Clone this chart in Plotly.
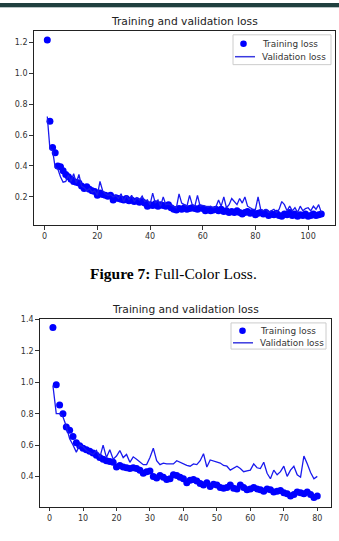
import plotly.graph_objects as go

# ---------------- data ----------------
top_train = [1.215, 0.69, 0.52, 0.485, 0.40, 0.395, 0.37, 0.345, 0.33, 0.315,
             0.30, 0.295, 0.29, 0.27, 0.255, 0.265, 0.25, 0.24, 0.235, 0.21,
             0.225, 0.215, 0.21, 0.205, 0.21, 0.18, 0.195, 0.19, 0.185, 0.18,
             0.19, 0.175, 0.18, 0.17, 0.175, 0.165, 0.17, 0.16, 0.14, 0.15,
             0.145, 0.155, 0.14, 0.15, 0.145, 0.14, 0.15, 0.13, 0.12, 0.115,
             0.125, 0.12, 0.13, 0.12, 0.125, 0.13, 0.125, 0.12, 0.13, 0.125,
             0.11, 0.12, 0.11, 0.115, 0.12, 0.11, 0.12, 0.105, 0.11, 0.10,
             0.105, 0.10, 0.11, 0.10, 0.09, 0.10, 0.105, 0.095, 0.10, 0.085,
             0.095, 0.10, 0.09, 0.10, 0.08, 0.09, 0.085, 0.095, 0.08, 0.075,
             0.09, 0.085, 0.10, 0.08, 0.09, 0.075, 0.085, 0.08, 0.09, 0.075,
             0.08, 0.09, 0.08, 0.085, 0.09]
top_val = [0.72, 0.51, 0.50, 0.39, 0.38, 0.33, 0.295, 0.30, 0.34, 0.30,
           0.35, 0.29, 0.345, 0.27, 0.26, 0.24, 0.255, 0.23, 0.24, 0.21,
           0.30, 0.24, 0.22, 0.21, 0.215, 0.20, 0.21, 0.19, 0.22, 0.17,
           0.21, 0.18, 0.21, 0.17, 0.195, 0.18, 0.205, 0.17, 0.18, 0.15,
           0.225, 0.16, 0.18, 0.14, 0.20, 0.15, 0.155, 0.145, 0.14, 0.13,
           0.22, 0.16, 0.15, 0.14, 0.21, 0.15, 0.14, 0.21, 0.14, 0.145,
           0.14, 0.135, 0.14, 0.13, 0.135, 0.18, 0.14, 0.20, 0.13, 0.15,
           0.19, 0.17, 0.15, 0.19, 0.16, 0.20, 0.14, 0.13, 0.12, 0.12,
           0.20, 0.12, 0.11, 0.12, 0.10, 0.11, 0.12, 0.10, 0.12, 0.17,
           0.15, 0.11, 0.14, 0.11, 0.13, 0.10, 0.14, 0.11, 0.125, 0.13,
           0.11, 0.14, 0.12, 0.15, 0.10]
top_epochs = list(range(1, len(top_train) + 1))

bot_train = [1.35, 0.985, 0.855, 0.80, 0.715, 0.695, 0.655, 0.615, 0.595, 0.58,
             0.57, 0.56, 0.55, 0.535, 0.52, 0.51, 0.50, 0.495, 0.49, 0.46,
             0.47, 0.46, 0.455, 0.45, 0.455, 0.45, 0.44, 0.42, 0.43, 0.435,
             0.40, 0.39, 0.405, 0.395, 0.38, 0.385, 0.41, 0.405, 0.395, 0.385,
             0.36, 0.375, 0.38, 0.37, 0.355, 0.345, 0.36, 0.335, 0.35, 0.345,
             0.33, 0.325, 0.33, 0.345, 0.325, 0.32, 0.345, 0.33, 0.315, 0.32,
             0.33, 0.32, 0.315, 0.305, 0.32, 0.315, 0.30, 0.305, 0.31, 0.295,
             0.29, 0.275, 0.285, 0.30, 0.295, 0.29, 0.30, 0.285, 0.265, 0.275]
bot_val = [0.98, 0.80, 0.80, 0.78, 0.72, 0.64, 0.60, 0.555, 0.60, 0.59,
           0.565, 0.555, 0.54, 0.565, 0.52, 0.60, 0.52, 0.57, 0.51, 0.53,
           0.565, 0.52, 0.54, 0.49, 0.525, 0.51, 0.49, 0.475, 0.475, 0.52,
           0.58, 0.50, 0.475, 0.485, 0.48, 0.48, 0.48, 0.50, 0.49, 0.475,
           0.47, 0.465, 0.48, 0.475, 0.50, 0.545, 0.46, 0.505, 0.50, 0.49,
           0.485, 0.47, 0.465, 0.44, 0.45, 0.465, 0.45, 0.43, 0.435, 0.44,
           0.48, 0.455, 0.45, 0.49, 0.42, 0.385, 0.44, 0.41, 0.43, 0.465,
           0.40, 0.44, 0.465, 0.41, 0.395, 0.53, 0.48, 0.425, 0.385, 0.40]
bot_epochs = list(range(1, len(bot_train) + 1))

title_text = "Training and validation loss"
train_name = "Training loss"
val_name = "Validation loss"
caption = "<b>Figure 7:</b> Full-Color Loss."
top_xticks = [0, 20, 40, 60, 80, 100]
top_yticks = [0.2, 0.4, 0.6, 0.8, 1.0, 1.2]
bot_xticks = [0, 10, 20, 30, 40, 50, 60, 70, 80]
bot_yticks = [0.4, 0.6, 0.8, 1.0, 1.2, 1.4]

# ---------------- figure ----------------
W, H = 339, 541
BLUE = "#0000ff"
LINE = "#1a1aee"
FONT = "DejaVu Sans"


def px_x(p):
    return p / W


def px_y(p):
    return 1 - p / H


fig = go.Figure()
fig.add_trace(go.Scatter(x=top_epochs, y=top_train, mode="markers", name=train_name,
                         marker=dict(color=BLUE, size=7), xaxis="x", yaxis="y"))
fig.add_trace(go.Scatter(x=top_epochs, y=top_val, mode="lines", name=val_name,
                         line=dict(color=LINE, width=1.3), xaxis="x", yaxis="y"))
fig.add_trace(go.Scatter(x=bot_epochs, y=bot_train, mode="markers", name=train_name,
                         marker=dict(color=BLUE, size=7), xaxis="x2", yaxis="y2"))
fig.add_trace(go.Scatter(x=bot_epochs, y=bot_val, mode="lines", name=val_name,
                         line=dict(color=LINE, width=1.3), xaxis="x2", yaxis="y2"))

axis_common = dict(showgrid=False, zeroline=False, showline=True, mirror=True,
                   linecolor="#222", linewidth=1, ticks="outside", ticklen=3.5,
                   tickcolor="#333", tickfont=dict(family=FONT, size=8, color="#333"))

top_dom_x = [px_x(33.6), px_x(335)]
top_dom_y = [px_y(223.3), px_y(28.3)]
bot_dom_x = [px_x(39.7), px_x(330.5)]
bot_dom_y = [px_y(506.7), px_y(317.7)]

fig.update_layout(
    width=W, height=H,
    margin=dict(l=0, r=0, t=0, b=0),
    paper_bgcolor="white", plot_bgcolor="white",
    showlegend=False,
    xaxis=dict(domain=top_dom_x, range=[-4.2, 110.2], tickvals=top_xticks,
               anchor="y", **axis_common),
    yaxis=dict(domain=top_dom_y, range=[0.018, 1.272], tickvals=top_yticks,
               tickformat=".1f", anchor="x", **axis_common),
    xaxis2=dict(domain=bot_dom_x, range=[-2.95, 83.95], tickvals=bot_xticks,
                anchor="y2", **axis_common),
    yaxis2=dict(domain=bot_dom_y, range=[0.2055, 1.4045], tickvals=bot_yticks,
                tickformat=".1f", anchor="x2", **axis_common),
)

# titles
for dom_x, ty in ((top_dom_x, 19), (bot_dom_x, 308)):
    fig.add_annotation(text=title_text, xref="paper", yref="paper",
                       x=(dom_x[0] + dom_x[1]) / 2, y=px_y(ty),
                       xanchor="center", yanchor="middle", showarrow=False,
                       font=dict(family=FONT, size=10.7, color="#222"))


def add_legend(box, dot_x, line_x0, line_x1, text_x, row1, row2):
    """Matplotlib-like legend box drawn in pixel positions of the page."""
    x0, y0, x1, y1 = box
    fig.add_shape(type="rect", xref="paper", yref="paper",
                  x0=px_x(x0), x1=px_x(x1), y0=px_y(y1), y1=px_y(y0),
                  fillcolor="rgba(255,255,255,0.85)",
                  line=dict(color="#cccccc", width=1), layer="above")
    r = 3.3
    fig.add_shape(type="circle", xref="paper", yref="paper",
                  x0=px_x(dot_x - r), x1=px_x(dot_x + r),
                  y0=px_y(row1 + r), y1=px_y(row1 - r),
                  fillcolor=BLUE, line=dict(width=0), layer="above")
    fig.add_shape(type="line", xref="paper", yref="paper",
                  x0=px_x(line_x0), x1=px_x(line_x1), y0=px_y(row2), y1=px_y(row2),
                  line=dict(color="#3a3ae0", width=1.5), layer="above")
    for label, ry in ((train_name, row1), (val_name, row2)):
        fig.add_annotation(text=label, xref="paper", yref="paper",
                           x=px_x(text_x), y=px_y(ry), xanchor="left", yanchor="middle",
                           showarrow=False,
                           font=dict(family=FONT, size=8.9, color="#333"))


add_legend((233, 32, 331, 62), 243.5, 235, 255, 259.5, 41, 54)
add_legend((231, 321.7, 326, 348), 242.5, 233, 253, 257.5, 329.5, 341.7)

# caption
fig.add_annotation(text=caption, xref="paper", yref="paper",
                   x=px_x(173), y=px_y(272), xanchor="center", yanchor="middle",
                   showarrow=False,
                   font=dict(family="Liberation Serif", size=15.5, color="black"))

# dark strip at the top of the page
fig.add_shape(type="rect", xref="paper", yref="paper", x0=0, x1=1,
              y0=px_y(4), y1=1, fillcolor="#20403f", line=dict(width=0), layer="above")
fig.add_shape(type="rect", xref="paper", yref="paper", x0=0, x1=1,
              y0=px_y(5), y1=px_y(4), fillcolor="#b8c4c4", line=dict(width=0), layer="above")

fig.write_html("out.html")
